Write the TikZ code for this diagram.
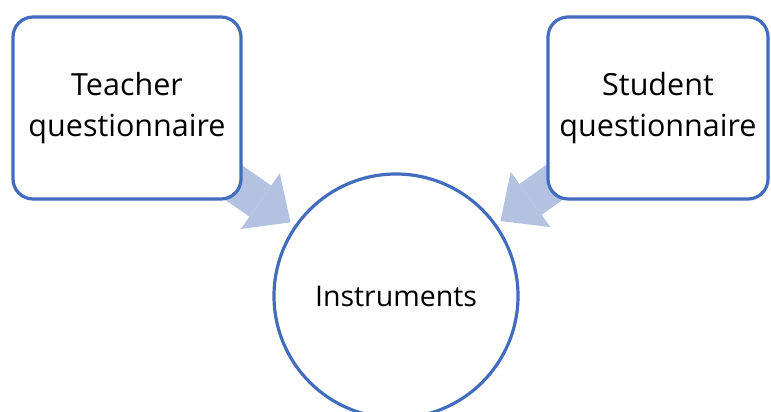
\documentclass[tikz,border=0pt]{standalone}
\usepackage{fontspec}
\setmainfont{Open Sans}
\usetikzlibrary{arrows.meta,backgrounds,positioning}
\definecolor{boxblue}{RGB}{66,108,188}
\definecolor{feedblue}{RGB}{180,194,226}

\begin{document}
\begin{tikzpicture}[x=1pt,y=-1pt,
	qbox/.style={draw=boxblue,line width=3.2pt,fill=white,rounded corners=20pt,minimum height=182pt,align=center,font=\fontsize{30.5}{41}\selectfont},
	instr/.style={draw=boxblue,line width=3.2pt,fill=white,circle,minimum size=244pt,inner sep=0pt,font=\fontsize{28.5}{40}\selectfont},
	feed/.style={draw=feedblue,line width=38pt,-{Triangle[length=37pt,width=68pt,line width=0pt]},shorten >=5pt}]
	\useasboundingbox (0,0) rectangle (771,412);

	\node[qbox,minimum width=228pt] (teacher) at (127,108) {Teacher\\questionnaire};
	\node[qbox,minimum width=220pt] (student) at (658,108) {Student\\questionnaire};
	\node[instr] (instruments) at (396,296) {Instruments};

	\begin{scope}[on background layer]
		\draw[feed] (teacher.center) -- (instruments);
		\draw[feed] (student.center) -- (instruments);
	\end{scope}
\end{tikzpicture}
\end{document}
